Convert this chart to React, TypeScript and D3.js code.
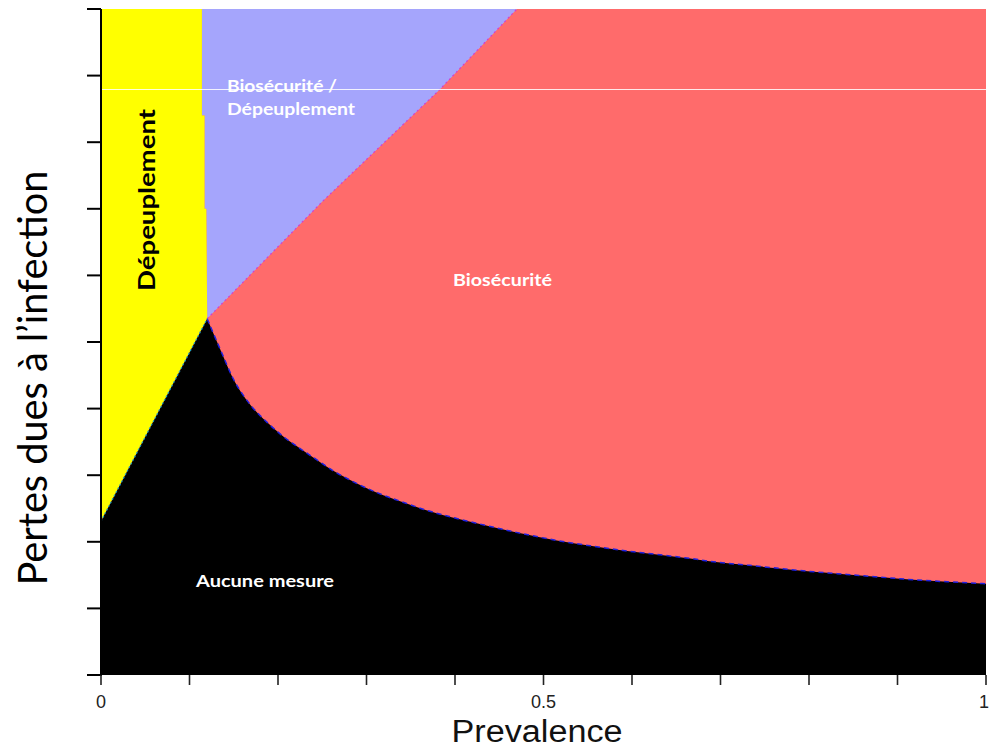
import React from "react";
import * as d3 from "d3";

// Black region ("Aucune mesure") upper boundary, right of the peak
const curvePrev = [0.120, 0.137, 0.149, 0.168, 0.188, 0.206, 0.225, 0.244, 0.262, 0.281, 0.301, 0.319, 0.338, 0.364, 0.402, 0.440, 0.477, 0.515, 0.553, 0.590, 0.628, 0.666, 0.692, 0.730, 0.767, 0.805, 0.843, 0.880, 0.918, 0.956, 1.0];
const curveLoss = [0.535, 0.482, 0.446, 0.407, 0.379, 0.358, 0.340, 0.323, 0.307, 0.293, 0.280, 0.270, 0.261, 0.249, 0.235, 0.223, 0.212, 0.202, 0.194, 0.187, 0.181, 0.175, 0.170, 0.165, 0.160, 0.155, 0.151, 0.147, 0.143, 0.140, 0.137];
// Black region left edge (from axis to the peak)
const leftPrev = [0, 0.120];
const leftLoss = [0.231, 0.535];
// Biosécurité / Biosécurité-Dépeuplement boundary
const diagPrev = [0.120, 0.123, 0.251, 0.382, 0.470];
const diagLoss = [0.535, 0.539, 0.712, 0.878, 1.0];
// Dépeuplement (yellow) right edge
const yellowPrev = [0.114, 0.114, 0.117, 0.117, 0.119, 0.120];
const yellowLoss = [1.0, 0.84, 0.84, 0.70, 0.70, 0.535];

const xTicks = [0, 0.1, 0.2, 0.3, 0.4, 0.5, 0.6, 0.7, 0.8, 0.9, 1];
const yTicks = [0, 0.1, 0.2, 0.3, 0.4, 0.5, 0.6, 0.7, 0.8, 0.9, 1];
const xTickLabels = [
  { v: 0, t: "0", anchor: "middle", dx: 0 },
  { v: 0.5, t: "0.5", anchor: "middle", dx: 0 },
  { v: 1, t: "1", anchor: "end", dx: 3 },
];

const W = 989;
const H = 748;

export default function App() {
  const x = d3.scaleLinear().domain([0, 1]).range([101, 986]);
  const y = d3.scaleLinear().domain([0, 1]).range([675, 9]);
  const line = d3
    .line<[number, number]>()
    .x((d) => x(d[0]))
    .y((d) => y(d[1]));
  const smooth = d3
    .line<[number, number]>()
    .x((d) => x(d[0]))
    .y((d) => y(d[1]))
    .curve(d3.curveMonotoneX);
  const zip = (a: number[], b: number[]) => a.map((v, i) => [v, b[i]] as [number, number]);
  const cont = (p: string) => "L" + p.slice(1);

  const curve = zip(curvePrev, curveLoss);
  const left = zip(leftPrev, leftLoss);
  const diag = zip(diagPrev, diagLoss);
  const yel = zip(yellowPrev, yellowLoss);

  const curvePath = smooth(curve)!;
  const diagPath = line(diag)!;

  const blackD = line([[0, 0], ...left])! + cont(curvePath) + `L${x(1)},${y(0)}Z`;
  const yellowD = line([[0, 0], [0, 1], ...yel, ...left.slice().reverse()])! + "Z";
  const purpleD = line(yel)! + cont(diagPath) + "Z";

  const white = "#ffffff";
  const calib = "Lato, 'Open Sans', sans-serif";

  return (
    <svg width={W} height={H} style={{ position: "absolute", left: 0, top: 0, background: "#fff" }}>
      {/* Biosécurité background */}
      <rect x={x(0)} y={y(1)} width={x(1) - x(0)} height={y(0) - y(1)} fill="#FF6B6B" />
      <path d={purpleD} fill="#A5A5FC" />
      <path d={yellowD} fill="#FFFF00" />
      <path d={blackD} fill="#000000" />
      {/* boundary pixel noise */}
      <path d={diagPath} fill="none" stroke="#d040d0" strokeWidth={1.2} strokeDasharray="2 3" />
      <path d={curvePath} fill="none" stroke="#2020e0" strokeWidth={1.5} strokeDasharray="5 4" />
      <path d={line(left)!} fill="none" stroke="#20a0c0" strokeWidth={1.2} strokeDasharray="2 2" />

      {/* faint white horizontal artefact */}
      <line x1={100} x2={986} y1={89.5} y2={89.5} stroke={white} strokeOpacity={0.85} strokeWidth={1} />

      {/* Y axis */}
      <line x1={101} x2={101} y1={y(1)} y2={y(0) + 1} stroke="#000" strokeWidth={2} />
      {yTicks.map((t) => (
        <line key={"yt" + t} x1={87} x2={101} y1={y(t)} y2={y(t)} stroke="#000" strokeWidth={2} />
      ))}
      {/* X axis ticks */}
      {xTicks.map((t) => (
        <line key={"xt" + t} x1={x(t)} x2={x(t)} y1={675} y2={685} stroke="#222" strokeWidth={1.6} />
      ))}
      {xTickLabels.map((d) => (
        <text
          key={"xl" + d.v}
          x={x(d.v) + d.dx}
          y={708}
          textAnchor={d.anchor}
          fontFamily="'Liberation Sans', Arial, sans-serif"
          fontSize={18}
          fill="#222"
        >
          {d.t}
        </text>
      ))}
      <text
        x={537}
        y={742}
        textAnchor="middle"
        fontFamily="'Liberation Sans', Arial, sans-serif"
        fontSize={31}
        fill="#111"
        textLength={171}
        lengthAdjust="spacingAndGlyphs"
      >
        Prevalence
      </text>
      <text
        transform="translate(47,378) rotate(-90)"
        textAnchor="middle"
        fontFamily={calib}
        fontSize={40}
        fill="#000"
        textLength={415}
        lengthAdjust="spacingAndGlyphs"
      >
        Pertes dues à l’infection
      </text>

      {/* Region labels */}
      <text
        transform="translate(155,200) rotate(-90)"
        textAnchor="middle"
        fontFamily={calib}
        fontWeight="bold"
        fontSize={23}
        fill="#000"
        textLength={182}
        lengthAdjust="spacingAndGlyphs"
      >
        Dépeuplement
      </text>
      <text x={227} y={92} fontFamily={calib} fontWeight="bold" fontSize={17} fill={white} textLength={110} lengthAdjust="spacingAndGlyphs">
        Biosécurité /
      </text>
      <text x={227} y={115} fontFamily={calib} fontWeight="bold" fontSize={17} fill={white} textLength={128} lengthAdjust="spacingAndGlyphs">
        Dépeuplement
      </text>
      <text x={453} y={286} fontFamily={calib} fontWeight="bold" fontSize={17} fill={white} textLength={99} lengthAdjust="spacingAndGlyphs">
        Biosécurité
      </text>
      <text x={196} y={587} fontFamily={calib} fontWeight="bold" fontSize={17} fill={white} textLength={138} lengthAdjust="spacingAndGlyphs">
        Aucune mesure
      </text>
    </svg>
  );
}
